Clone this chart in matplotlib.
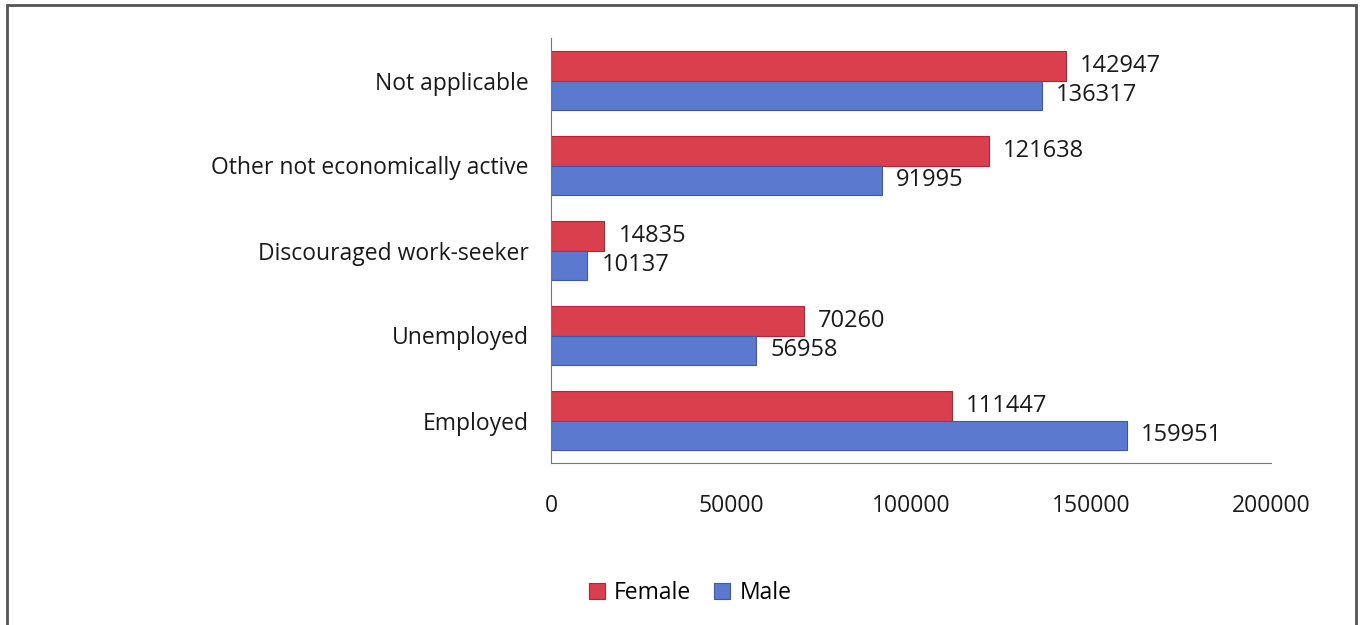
import numpy as np
import matplotlib.pyplot as plt
from matplotlib.patches import Rectangle

categories = ["Employed", "Unemployed", "Discouraged work-seeker",
              "Other not economically active", "Not applicable"]
female = [111447, 70260, 14835, 121638, 142947]
male = [159951, 56958, 10137, 91995, 136317]
xticks = [0, 50000, 100000, 150000, 200000]

plt.rcParams['font.family'] = ['Open Sans', 'DejaVu Sans']

fig = plt.figure(figsize=(13.6, 6.25), dpi=100)
# axes box in pixels: x 551..1271, y 38..463
ax = fig.add_axes([551/1360, 1 - 463/625, 720/1360, 425/625])

y = np.arange(len(categories))
h = 0.345
red = '#D93F4C'
blue = '#5A79CF'
ax.barh(y + h/2, female, height=h, color=red, edgecolor='#B82232', linewidth=0.8, label='Female')
ax.barh(y - h/2, male, height=h, color=blue, edgecolor='#3A58B0', linewidth=0.8, label='Male')

fs = 16.5
txt = '#1a1a1a'
for i in range(len(categories)):
    ax.text(female[i] + 3900, y[i] + h/2, str(female[i]), va='center', ha='left', fontsize=17, color=txt)
    ax.text(male[i] + 3900, y[i] - h/2, str(male[i]), va='center', ha='left', fontsize=17, color=txt)

ax.set_xlim(0, 200000)
ax.set_ylim(-0.5, len(categories) - 0.5)
ax.set_yticks(y)
ax.set_yticklabels(categories, fontsize=fs, color=txt)
ax.set_xticks(xticks)
ax.set_xticklabels([str(t) for t in xticks], fontsize=fs, color=txt)
ax.tick_params(axis='y', length=0, pad=16)
ax.tick_params(axis='x', length=0, pad=22)
for s in ['top', 'right']:
    ax.spines[s].set_visible(False)
ax.spines['left'].set_color('#777777')
ax.spines['bottom'].set_color('#777777')

fig.legend(loc='center', bbox_to_anchor=(690/1360, 1 - 593/625), ncol=2, frameon=False,
           fontsize=fs, handlelength=0.7, handleheight=0.7, handletextpad=0.4, columnspacing=1.0)

# outer frame
fig.patches.append(Rectangle((7/1360, -0.05), 1349/1360, 1.05 - 5/625, transform=fig.transFigure,
                             fill=False, edgecolor='#555555', linewidth=2.0))

fig.savefig('out.png', dpi=100)
